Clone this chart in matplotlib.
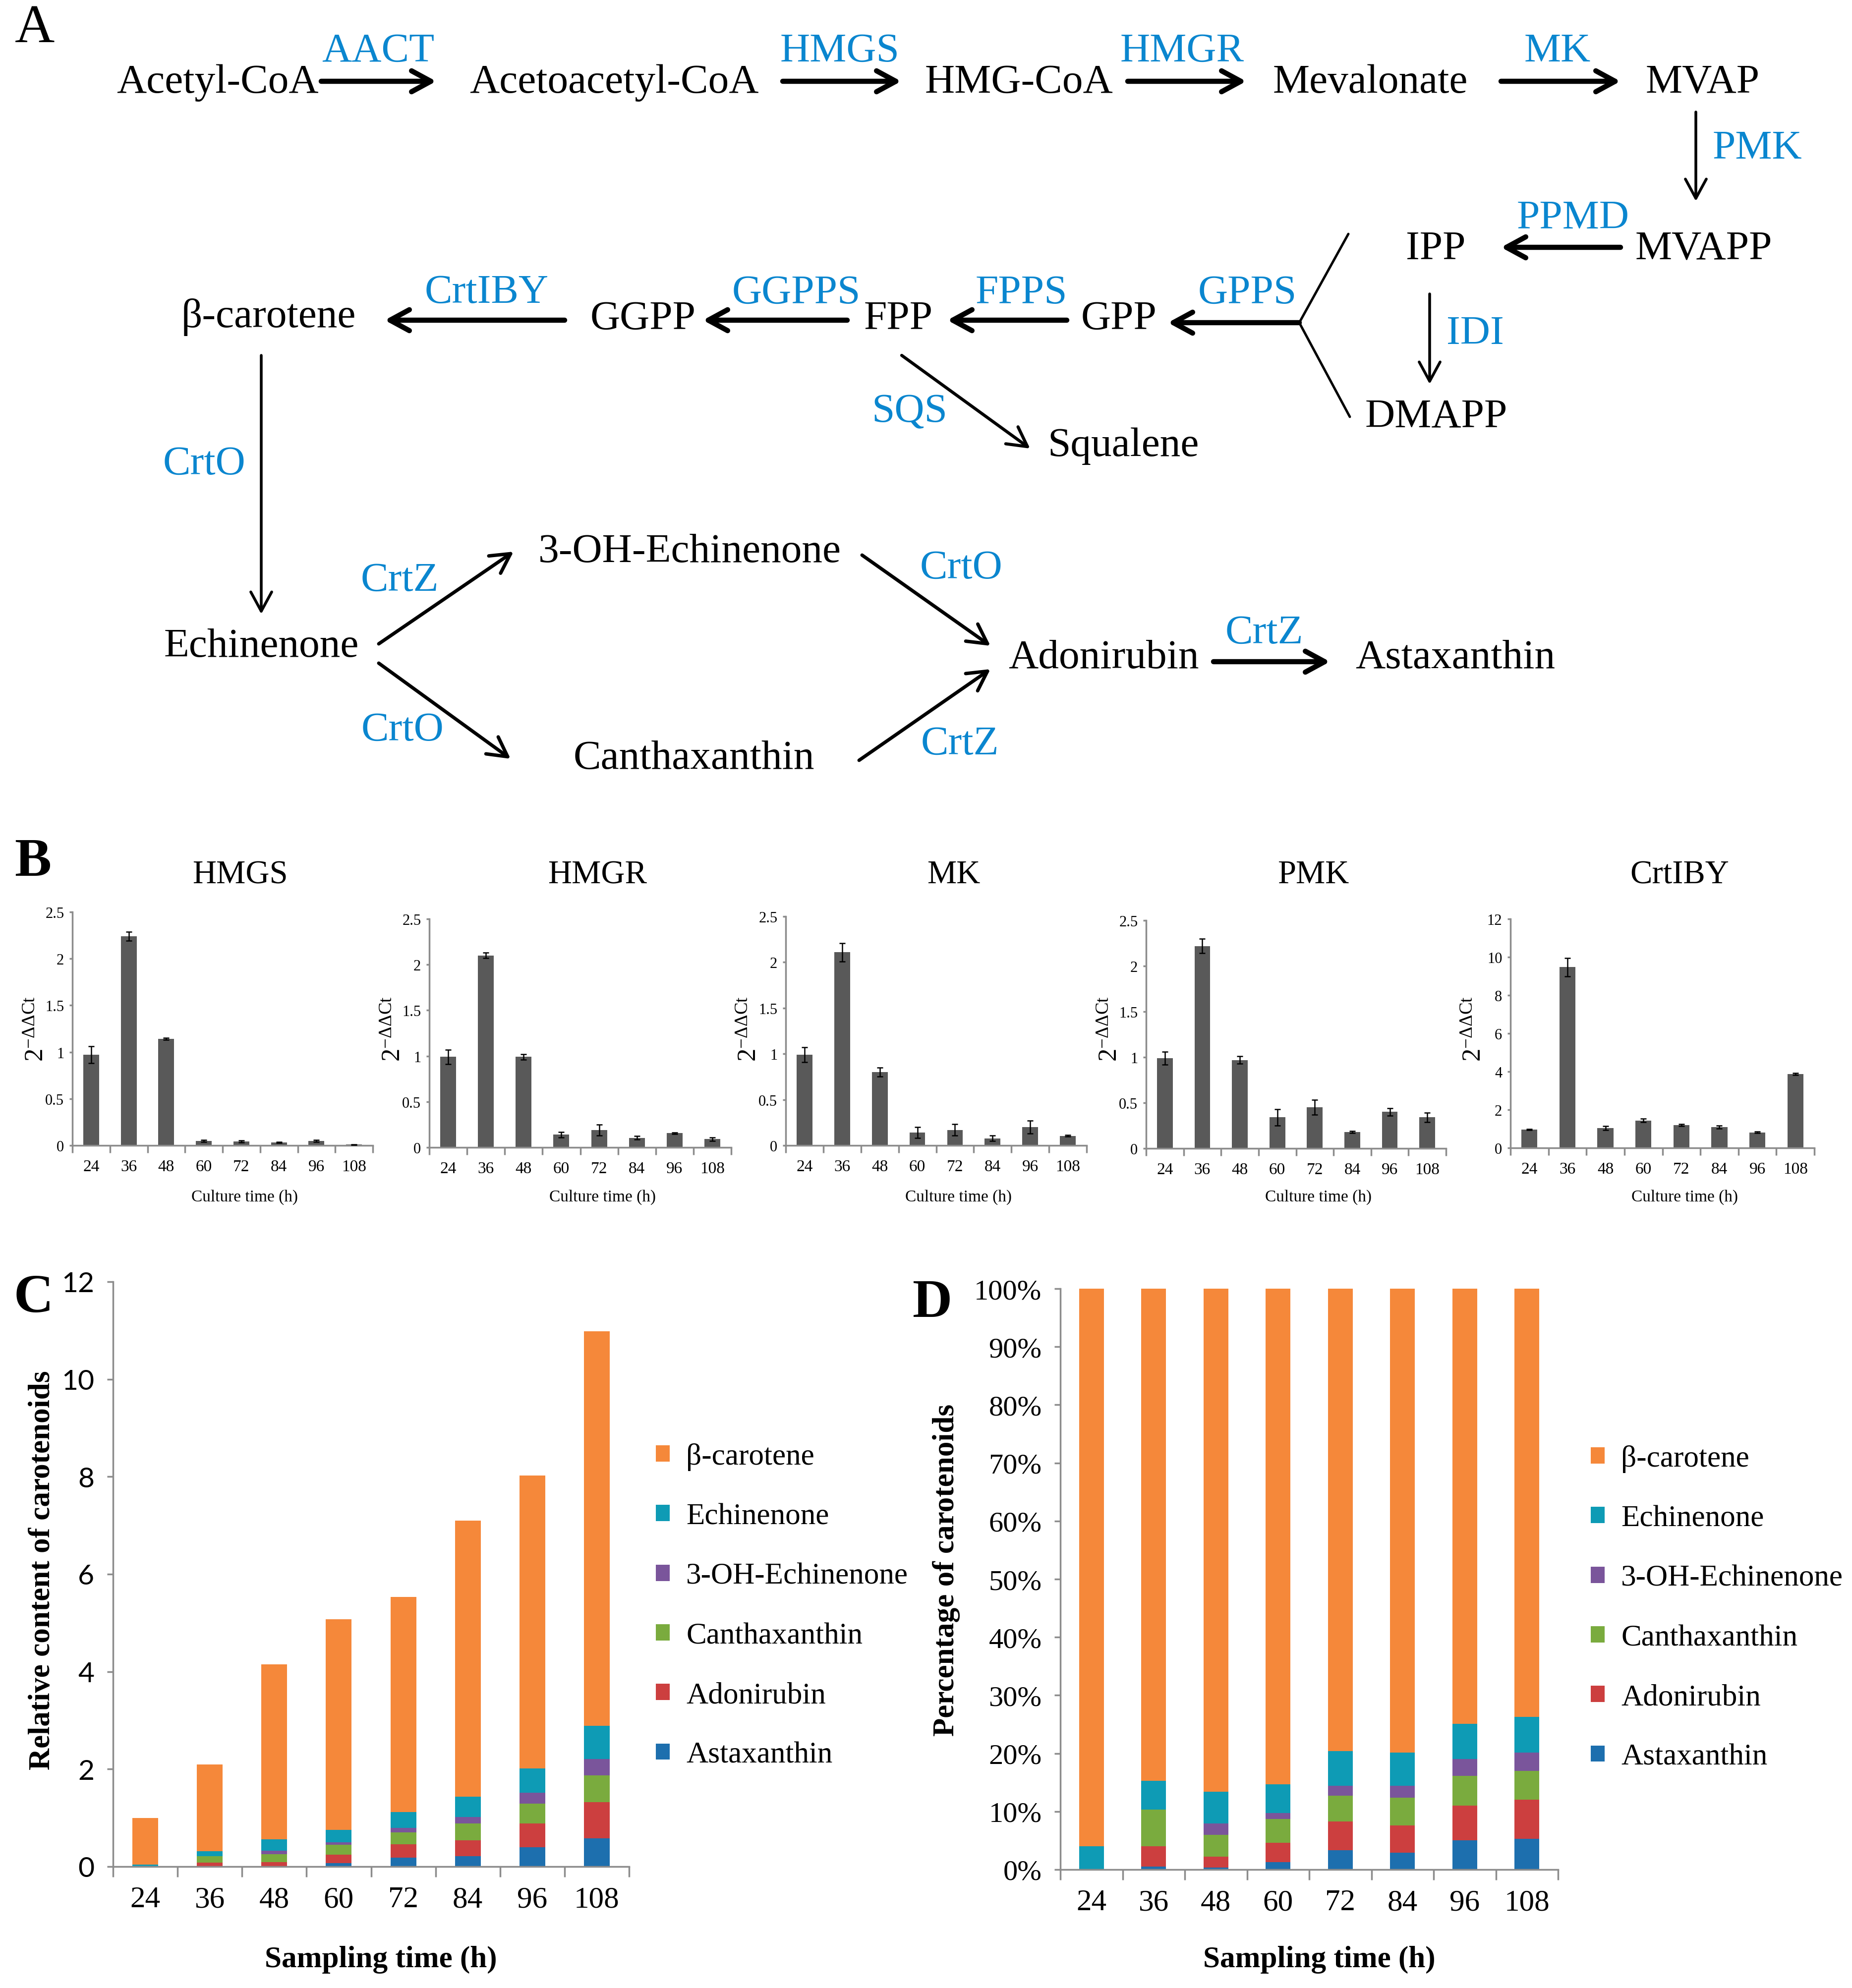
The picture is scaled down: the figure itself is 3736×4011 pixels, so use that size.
#!/usr/bin/env python3
# Astaxanthin pathway figure: pathway scheme (A), qPCR bars (B),
# stacked carotenoid content (C) and percentages (D).

import matplotlib
matplotlib.use('Agg')
import matplotlib.pyplot as plt
from matplotlib.patches import Patch
import numpy as np

W, H = 3736, 4012
DPI = 100
SERIF = 'Liberation Serif'
BLUE = '#0a86cf'
AXIS_GRAY = '#8c8c8c'
BAR_GRAY = '#595959'

plt.rcParams['font.family'] = SERIF
plt.rcParams['mathtext.fontset'] = 'custom'
plt.rcParams['mathtext.rm'] = SERIF
plt.rcParams['mathtext.it'] = SERIF + ':italic'

# ---------------- data ----------------
HOURS = ['24', '36', '48', '60', '72', '84', '96', '108']

GENES = ['HMGS', 'HMGR', 'MK', 'PMK', 'CrtIBY']
HMGS = [0.97, 2.24, 1.14, 0.046, 0.044, 0.03, 0.046, 0.008]
HMGS_ERR = [0.09, 0.05, 0.01, 0.01, 0.01, 0.005, 0.01, 0.003]
HMGR = [0.99, 2.10, 0.99, 0.14, 0.19, 0.105, 0.155, 0.09]
HMGR_ERR = [0.08, 0.03, 0.03, 0.03, 0.06, 0.02, 0.01, 0.02]
MK = [0.99, 2.11, 0.80, 0.14, 0.17, 0.076, 0.20, 0.105]
MK_ERR = [0.08, 0.10, 0.05, 0.06, 0.06, 0.03, 0.07, 0.01]
PMK = [0.99, 2.22, 0.97, 0.34, 0.45, 0.18, 0.40, 0.34]
PMK_ERR = [0.07, 0.08, 0.04, 0.09, 0.08, 0.01, 0.04, 0.05]
CRTIBY = [0.96, 9.47, 1.03, 1.44, 1.20, 1.10, 0.81, 3.87]
CRTIBY_ERR = [0.02, 0.48, 0.10, 0.10, 0.05, 0.08, 0.04, 0.05]

# stacking order bottom -> top
CAROTENOIDS = ['Astaxanthin', 'Adonirubin', 'Canthaxanthin',
               '3-OH-Echinenone', 'Echinenone', 'β-carotene']
COLORS = ['#1d6fae', '#cc3f3f', '#7aab3e', '#7a559b', '#0e9bb5', '#f5883a']

# relative content (panel C)
ASTAXANTHIN = [0.00, 0.01, 0.01, 0.07, 0.18, 0.21, 0.40, 0.58]
ADONIRUBIN = [0.00, 0.07, 0.08, 0.17, 0.28, 0.33, 0.48, 0.74]
CANTHAXANTHIN = [0.00, 0.13, 0.16, 0.21, 0.24, 0.34, 0.41, 0.55]
OH_ECHINENONE = [0.00, 0.00, 0.08, 0.05, 0.09, 0.14, 0.23, 0.34]
ECHINENONE = [0.04, 0.11, 0.23, 0.25, 0.33, 0.41, 0.49, 0.68]
BETA_CAROTENE = [0.96, 1.78, 3.59, 4.32, 4.41, 5.67, 6.01, 8.09]

# percentages (panel D)
ASTAXANTHIN_PCT = [0.0, 0.5, 0.3, 1.3, 3.3, 2.9, 5.0, 5.3]
ADONIRUBIN_PCT = [0.0, 3.5, 1.9, 3.3, 5.0, 4.7, 6.0, 6.7]
CANTHAXANTHIN_PCT = [0.0, 6.3, 3.8, 4.1, 4.4, 4.8, 5.1, 5.0]
OH_ECHINENONE_PCT = [0.0, 0.0, 1.9, 1.0, 1.7, 2.0, 2.9, 3.1]
ECHINENONE_PCT = [4.0, 5.0, 5.5, 5.0, 6.0, 5.7, 6.1, 6.2]
BETA_CAROTENE_PCT = [96.0, 84.7, 86.6, 85.3, 79.6, 79.9, 74.9, 73.7]

# ---------------- pathway layout (pixels) ----------------
NODES = [
    ('Acetyl-CoA', 439, 167), ('Acetoacetyl-CoA', 1239, 167),
    ('HMG-CoA', 2055, 167), ('Mevalonate', 2764, 167), ('MVAP', 3435, 167),
    ('MVAPP', 3437, 503), ('IPP', 2896, 503), ('DMAPP', 2897, 842),
    ('GPP', 2257, 644), ('FPP', 1812, 644), ('GGPP', 1297, 644),
    ('β-carotene', 542, 640), ('Squalene', 2266, 900),
    ('Echinenone', 527, 1305), ('3-OH-Echinenone', 1391, 1114),
    ('Canthaxanthin', 1400, 1531), ('Adonirubin', 2226, 1328),
    ('Astaxanthin', 2936, 1328),
]
ENZYMES = [
    ('AACT', 763, 104), ('HMGS', 1694, 104), ('HMGR', 2385, 104),
    ('MK', 3142, 104), ('PMK', 3545, 300), ('PPMD', 3173, 441),
    ('IDI', 2976, 674), ('GPPS', 2516, 592), ('FPPS', 2060, 592),
    ('GGPPS', 1606, 592), ('CrtIBY', 982, 591), ('SQS', 1835, 832),
    ('CrtO', 412, 937), ('CrtZ', 806, 1172), ('CrtO', 812, 1474),
    ('CrtO', 1939, 1147), ('CrtZ', 1936, 1502), ('CrtZ', 2550, 1278),
]
# (start, end, linewidth, with head)
ARROWS = [
    ((648, 165), (880, 165), 7.5, True), ((1579, 165), (1818, 165), 7.5, True),
    ((2275, 165), (2514, 165), 7.5, True), ((3028, 165), (3269, 165), 7.5, True),
    ((3421, 227), (3421, 407), 4, True), ((3269, 500), (3028, 500), 7.5, True),
    ((2884, 594), (2884, 776), 4, True), ((2621, 652), (2356, 652), 7.5, True),
    ((2152, 647), (1911, 647), 7.5, True), ((1709, 647), (1418, 647), 7.5, True),
    ((1139, 647), (776, 647), 7.5, True), ((1819, 718), (2078, 906), 4.5, True),
    ((527, 718), (527, 1240), 4, True), ((764, 1300), (1036, 1114), 5, True),
    ((764, 1339), (1030, 1532), 5, True), ((1739, 1121), (1998, 1304), 5, True),
    ((1733, 1535), (1998, 1351), 5, True), ((2448, 1336), (2683, 1336), 7.5, True),
    ((2720, 473), (2621, 652), 3.5, False), ((2621, 652), (2723, 842), 3.5, False),
]


def px_box(x0, y0, x1, y1):
    """
    Converts a pixel box (top-left origin) to figure fractions.
    """
    return [x0 / W, 1 - y1 / H, (x1 - x0) / W, (y1 - y0) / H]


def style_axes(ax, n):
    """
    Gray left/bottom spines, ticks between categories.
    """
    for s in ['top', 'right']:
        ax.spines[s].set_visible(False)
    for s in ['left', 'bottom']:
        ax.spines[s].set_color(AXIS_GRAY)
        ax.spines[s].set_linewidth(2.5)
    ax.set_xlim(-0.5, n - 0.5)
    ax.set_xticks(np.arange(n))
    ax.set_xticks(np.arange(-0.5, n), minor=True)
    ax.patch.set_alpha(0)


def draw_pathway(ax):
    for (x0, y0), (x1, y1), lw, head in ARROWS:
        style = '->,head_length=0.7,head_width=0.38' if head else '-'
        ax.annotate('', xy=(x1, y1), xytext=(x0, y0),
                    arrowprops=dict(arrowstyle=style, lw=lw, color='black',
                                    shrinkA=0, shrinkB=0, mutation_scale=40))
    for name, x, y in NODES:
        ax.text(x, y, name, fontsize=60, ha='center', va='center')
    for name, x, y in ENZYMES:
        ax.text(x, y, name, fontsize=60, ha='center', va='center',
                color=BLUE)


def draw_gene(fig, ax0, box, title, vals, errs, ymax, ystep):
    ax = fig.add_axes(px_box(*box))
    x = np.arange(len(HOURS))
    ax.bar(x, vals, width=0.42, color=BAR_GRAY, zorder=2)
    ax.errorbar(x, vals, yerr=errs, fmt='none', ecolor='black',
                elinewidth=1.8, capsize=4, capthick=1.8, zorder=3)
    style_axes(ax, len(HOURS))
    ax.set_ylim(0, ymax)
    ticks = np.arange(0, ymax + 1e-9, ystep)
    ax.set_yticks(ticks)
    ax.set_yticklabels(['%g' % t for t in ticks])
    ax.set_xticklabels(HOURS)
    ax.tick_params(axis='x', which='major', length=0, pad=20, labelsize=24)
    ax.tick_params(axis='x', which='minor', length=11, width=2.5,
                   color=AXIS_GRAY)
    ax.tick_params(axis='y', length=4, width=2.5, color=AXIS_GRAY,
                   labelsize=22, pad=8)
    cx = (box[0] + box[2]) / 2
    ax0.text(cx + 35, 1766, title, fontsize=48, ha='center', va='center')
    ax0.text(cx + 45, 2416, 'Culture time (h)', fontsize=24,
             ha='center', va='center')
    ax0.text(box[0] - 72, 2076, r'$\mathregular{2^{-\Delta\Delta Ct}}$',
             fontsize=38, ha='center', va='center', rotation=90)


def draw_stacked(fig, ax0, box, series, ymax, ystep, pct, ylabel, legend_xy):
    ax = fig.add_axes(px_box(*box))
    x = np.arange(len(HOURS))
    bottom = np.zeros(len(HOURS))
    for vals, color in zip(series, COLORS):
        ax.bar(x, vals, bottom=bottom, width=0.4, color=color, zorder=2)
        bottom += np.array(vals)
    style_axes(ax, len(HOURS))
    ax.set_ylim(0, ymax)
    ticks = np.arange(0, ymax + 1e-9, ystep)
    ax.set_yticks(ticks)
    if pct:
        ax.set_yticklabels(['%d%%' % t for t in ticks])
    else:
        ax.set_yticklabels(['%d' % t for t in ticks])
    ax.set_xticklabels(HOURS)
    ax.tick_params(axis='x', which='major', length=0, pad=28, labelsize=44)
    ax.tick_params(axis='x', which='minor', length=15, width=2.5,
                   color=AXIS_GRAY)
    ax.tick_params(axis='y', length=9, width=2.5, color=AXIS_GRAY,
                   labelsize=42 if pct else 41, pad=18)
    if not pct:
        for lbl in ax.get_yticklabels():
            lbl.set_fontfamily('Lato')
    cx = (box[0] + box[2]) / 2
    ax0.text(cx + 20, 3954, 'Sampling time (h)', fontsize=44,
             fontweight='bold', ha='center', va='center')
    ax0.text(box[0] - 143 if not pct else box[0] - 230, 3168, ylabel,
             fontsize=44, fontweight='bold', ha='center', va='center',
             rotation=90)
    handles = [Patch(facecolor=c, edgecolor='none') for c in COLORS][::-1]
    ax.legend(handles, CAROTENOIDS[::-1], loc='center left',
              bbox_to_anchor=(legend_xy[0] / W, 1 - legend_xy[1] / H),
              bbox_transform=fig.transFigure, frameon=False, fontsize=44,
              handlelength=0.45, handleheight=0.45, handletextpad=0.55,
              labelspacing=1.06, borderpad=0, borderaxespad=0)


def main():
    fig = plt.figure(figsize=(W / DPI, H / DPI), dpi=DPI)
    ax0 = fig.add_axes([0, 0, 1, 1])
    ax0.set_xlim(0, W)
    ax0.set_ylim(H, 0)
    ax0.axis('off')

    # panel letters
    ax0.text(70, 58, 'A', fontsize=80, ha='center', va='center')
    ax0.text(66, 1740, 'B', fontsize=80, fontweight='bold',
             ha='center', va='center')
    ax0.text(68, 2620, 'C', fontsize=80, fontweight='bold',
             ha='center', va='center')
    ax0.text(1880, 2630, 'D', fontsize=80, fontweight='bold',
             ha='center', va='center')

    draw_pathway(ax0)

    gene_boxes = [(146, 1841, 752, 2312), (866, 1855, 1475, 2316),
                  (1585, 1850, 2192, 2312), (2312, 1858, 2917, 2318),
                  (3047, 1855, 3660, 2317)]
    gene_vals = [(HMGS, HMGS_ERR, 2.5, 0.5), (HMGR, HMGR_ERR, 2.5, 0.5),
                 (MK, MK_ERR, 2.5, 0.5), (PMK, PMK_ERR, 2.5, 0.5),
                 (CRTIBY, CRTIBY_ERR, 12, 2)]
    for box, title, (vals, errs, ymax, ystep) in zip(gene_boxes, GENES,
                                                     gene_vals):
        draw_gene(fig, ax0, box, title, vals, errs, ymax, ystep)

    content = [ASTAXANTHIN, ADONIRUBIN, CANTHAXANTHIN, OH_ECHINENONE,
               ECHINENONE, BETA_CAROTENE]
    percent = [ASTAXANTHIN_PCT, ADONIRUBIN_PCT, CANTHAXANTHIN_PCT,
               OH_ECHINENONE_PCT, ECHINENONE_PCT, BETA_CAROTENE_PCT]
    draw_stacked(fig, ax0, (228, 2587, 1269, 3767), content, 12, 2, False,
                 'Relative content of carotenoids', (1323, 3241))
    draw_stacked(fig, ax0, (2139, 2601, 3143, 3773), percent, 100, 10, True,
                 'Percentage of carotenoids', (3209, 3245))

    fig.savefig('out.png', dpi=DPI)


if __name__ == '__main__':
    main()
